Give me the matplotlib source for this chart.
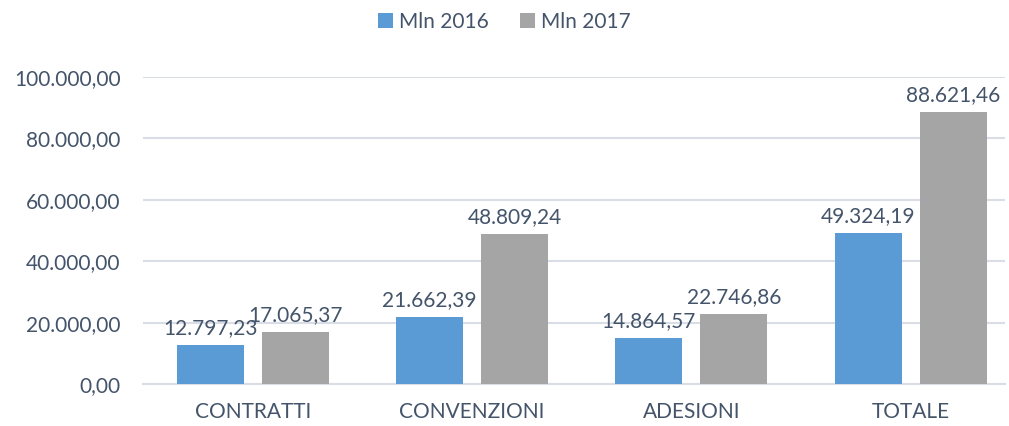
import matplotlib
matplotlib.use("Agg")
import matplotlib.pyplot as plt
import numpy as np

categories = ["CONTRATTI", "CONVENZIONI", "ADESIONI", "TOTALE"]
mln_2016 = [12797.23, 21662.39, 14864.57, 49324.19]
mln_2017 = [17065.37, 48809.24, 22746.86, 88621.46]
yticks = [0, 20000, 40000, 60000, 80000, 100000]

blue = "#5B9BD5"
grey = "#A5A5A5"
txt = "#44546A"
grid = "#D9DEE6"

plt.rcParams['font.family'] = ['Lato', 'DejaVu Sans']


def it_fmt(v):
    # italian style: dot for thousands, comma for decimals
    s = f"{v:,.2f}"
    return s.replace(",", "X").replace(".", ",").replace("X", ".")


fig = plt.figure(figsize=(10.09, 4.26), dpi=100)
ax = fig.add_axes([143/1009, 42/426, 862/1009, 307/426])

x = np.arange(len(categories))
w = 0.306
off = 0.194
b1 = ax.bar(x - off, mln_2016, w, color=blue, label="Mln 2016", zorder=3)
b2 = ax.bar(x + off, mln_2017, w, color=grey, label="Mln 2017", zorder=3)

for bars, vals in [(b1, mln_2016), (b2, mln_2017)]:
    for r, v in zip(bars, vals):
        ax.annotate(it_fmt(v), (r.get_x() + r.get_width()/2, v),
                    xytext=(0, 5), textcoords="offset points",
                    ha="center", va="bottom", fontsize=15, color=txt)

ax.set_xlim(-0.5, 3.43)
ax.set_ylim(0, 100000)
ax.set_yticks(yticks)
ax.set_yticklabels([it_fmt(v) for v in yticks])
ax.set_xticks(x)
ax.set_xticklabels(categories)
ax.tick_params(axis="both", length=0, labelsize=15, labelcolor=txt)
ax.tick_params(axis="y", pad=16)
ax.tick_params(axis="x", pad=13)
ax.yaxis.grid(True, color=grid, linewidth=1.5, zorder=0)
for s in ["top", "right", "left"]:
    ax.spines[s].set_visible(False)
ax.spines["bottom"].set_color(grid)
ax.spines["bottom"].set_linewidth(1.5)

fig.legend(handles=[b1, b2], loc="center", bbox_to_anchor=(0.5, 1 - 22/426),
           ncol=2, frameon=False, fontsize=15, labelcolor=txt,
           handlelength=0.7, handleheight=0.7, handletextpad=0.3,
           columnspacing=1.5)

fig.savefig("out.png", dpi=100)
